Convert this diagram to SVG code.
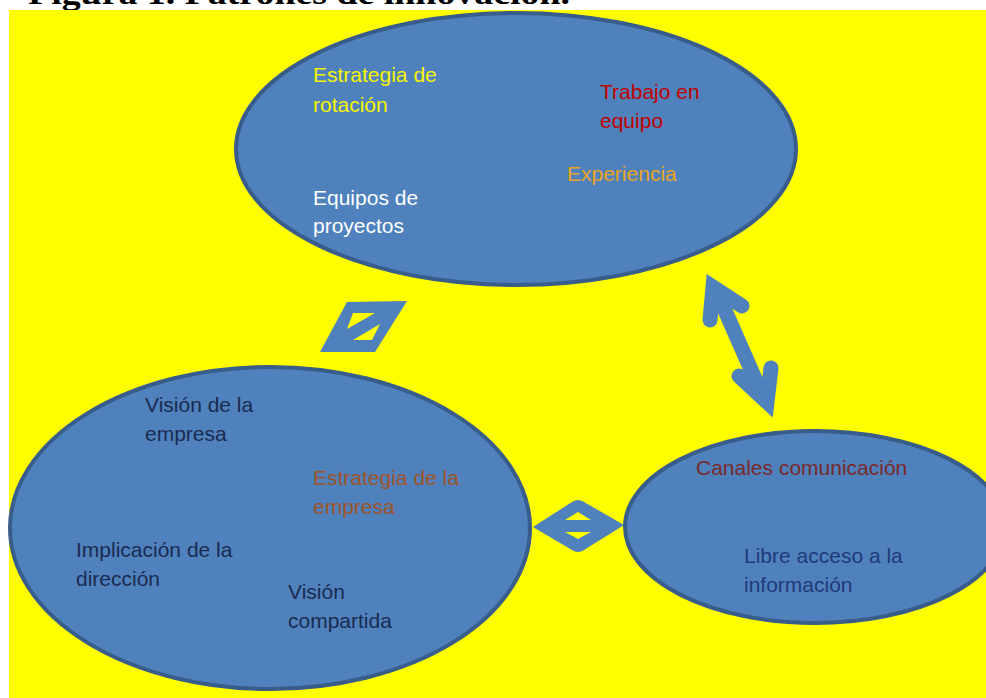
<svg xmlns="http://www.w3.org/2000/svg" width="986" height="698" viewBox="0 0 986 698">
<defs>
<style>
.bg{fill:#ffff00}
.node{fill:#4f81bd;stroke:#385d8a;stroke-width:4}
.lbl{font-family:"Liberation Sans",Arial,sans-serif;font-size:21px}
.conn{fill:#4f81bd;fill-rule:evenodd}
.arr{fill:none;stroke:#4f81bd;stroke-width:15;stroke-linecap:round;stroke-linejoin:miter;stroke-miterlimit:10}
.title{font-family:"Liberation Serif","Times New Roman",serif;font-weight:bold;font-size:31px;fill:#000}
</style>
</defs>
<rect x="0" y="0" width="986" height="698" fill="#ffffff"/>
<text class="title" x="28" y="4" textLength="542" lengthAdjust="spacingAndGlyphs">Figura 1. Patrones de innovación.</text>
<rect class="bg" x="9" y="10" width="977" height="688"/>

<g id="connectors">
  <path class="conn" d="M347,302 L407,301 L375,352 L320,352 Z M353,313 L375,313 L347,329 Z M380,324 L372,340 L353,340 Z"/>
  <path class="conn" d="M533,527 L572,502 Q578,498 584,502 L624,525 L584,550 Q578,554 572,550 Z M565,520 L591,520 L578,512 Z M565,532 L591,532 L578,539 Z"/>
  <g id="double-arrow">
    <path class="arr" d="M716,290 L764,399"/>
    <path class="arr" d="M710,320 L713,287 L742,306"/>
    <path class="arr" d="M739,376 L767,402 L771,368"/>
  </g>
</g>

<g id="node-top">
  <ellipse class="node" cx="516" cy="149" rx="280" ry="136"/>
  <text class="lbl" fill="#f5f500"><tspan x="313" y="82">Estrategia de</tspan><tspan x="313" y="112">rotación</tspan></text>
  <text class="lbl" fill="#c00000"><tspan x="600" y="99">Trabajo en</tspan><tspan x="600" y="128">equipo</tspan></text>
  <text class="lbl" fill="#eaa520" x="567" y="181">Experiencia</text>
  <text class="lbl" fill="#ffffff"><tspan x="313" y="205">Equipos de</tspan><tspan x="313" y="233">proyectos</tspan></text>
</g>

<g id="node-left">
  <ellipse class="node" cx="270" cy="528" rx="260" ry="161"/>
  <text class="lbl" fill="#1a2b50"><tspan x="145" y="412">Visión de la</tspan><tspan x="145" y="441">empresa</tspan></text>
  <text class="lbl" fill="#9f5426"><tspan x="313" y="485">Estrategia de la</tspan><tspan x="313" y="514">empresa</tspan></text>
  <text class="lbl" fill="#1a2b50"><tspan x="76" y="557">Implicación de la</tspan><tspan x="76" y="586">dirección</tspan></text>
  <text class="lbl" fill="#1a2b50"><tspan x="288" y="599">Visión</tspan><tspan x="288" y="628">compartida</tspan></text>
</g>

<g id="node-right">
  <ellipse class="node" cx="815" cy="527" rx="190" ry="96"/>
  <text class="lbl" fill="#7a2a2a" x="696" y="475">Canales comunicación</text>
  <text class="lbl" fill="#1f3a78"><tspan x="744" y="563">Libre acceso a la</tspan><tspan x="744" y="592">información</tspan></text>
</g>
</svg>
